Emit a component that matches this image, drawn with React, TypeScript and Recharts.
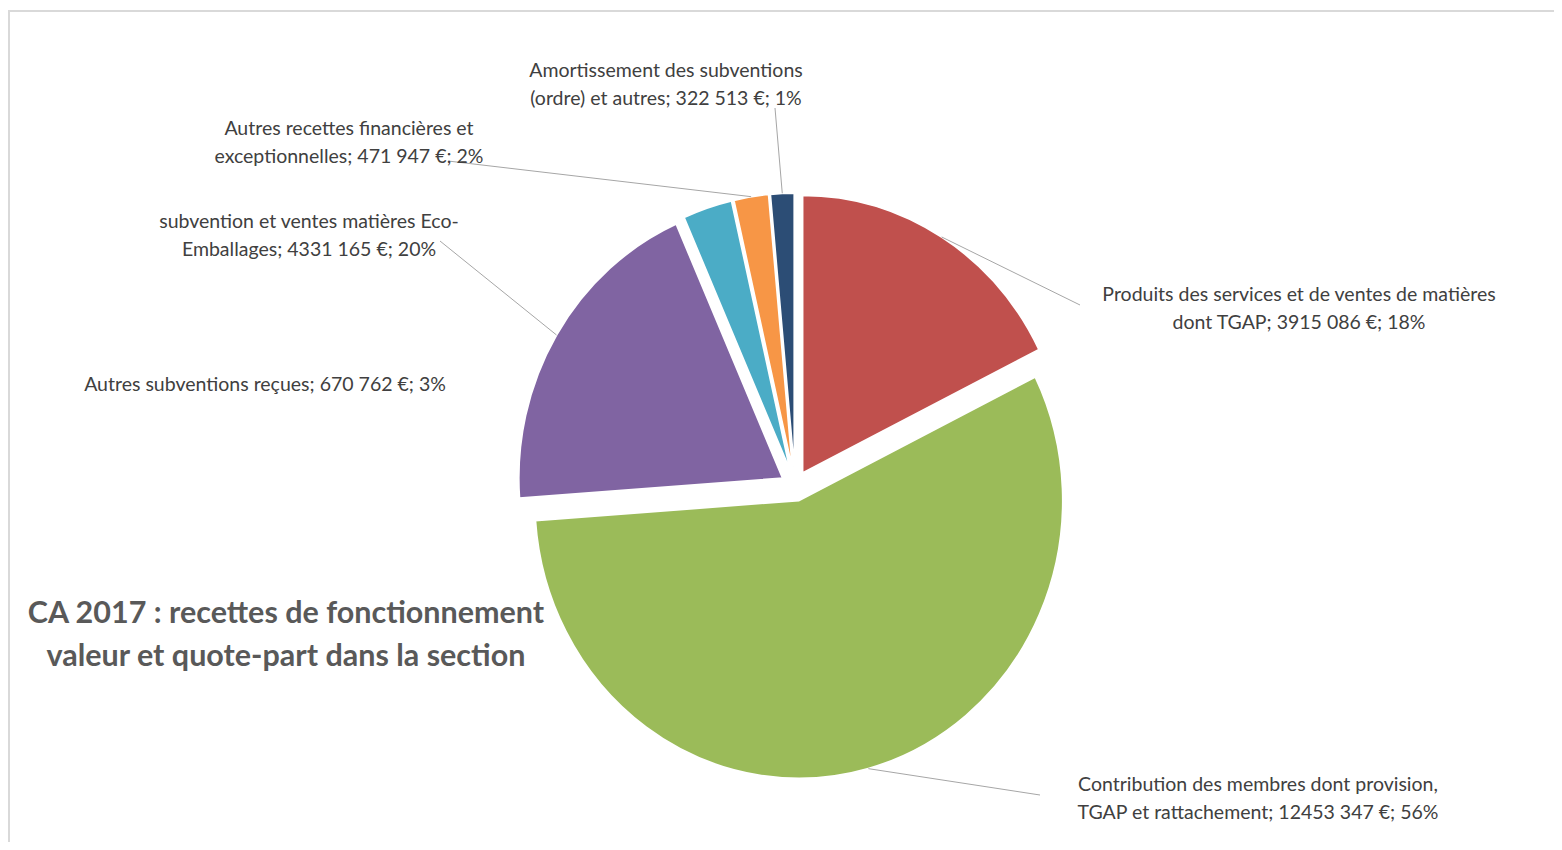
import { PieChart, Pie, Cell, Sector } from "recharts";

const LABELS = [
  ["Produits des services et de ventes de matières", "dont TGAP"],
  ["Contribution des membres dont provision,", "TGAP et rattachement"],
  ["subvention  et ventes matières Eco-", "Emballages"],
  ["Autres subventions reçues"],
  ["Autres recettes financières et", "exceptionnelles"],
  ["Amortissement des subventions", "(ordre) et autres"],
];
const VALUES = [3915086, 12453347, 4331165, 670762, 471947, 322513];
const COLORS = ["#C0504D", "#9BBB59", "#8064A2", "#4BACC6", "#F79646", "#2C4D75"];

// where each label block sits (center x, first line y) and where its leader line stops
const LABEL_POS = [
  { x: 1291, y: 287, lx: 1072, ly: 297, line: true },
  { x: 1250, y: 777, lx: 1032, ly: 787, line: true },
  { x: 301, y: 214, lx: 432, ly: 233, line: true },
  { x: 257, y: 377, lx: 0, ly: 0, line: false },
  { x: 341, y: 121, lx: 440, ly: 153, line: true },
  { x: 658, y: 63, lx: 767, ly: 100, line: true },
];

const EXPLODE = 15;
const SCALE_X = 0.95; // the original picture is a little squeezed sideways
const RAD = Math.PI / 180;
const FONT = "Lato, 'Open Sans', sans-serif";

const total = VALUES.reduce((a, b) => a + b, 0);
const data = VALUES.map((v, i) => ({ name: LABELS[i].join(" "), value: v, idx: i }));

// Excel output here only splits off the last three digits
const fmt = (v: number) => {
  const s = String(v);
  return s.length > 3 ? `${s.slice(0, -3)} ${s.slice(-3)}` : s;
};

function shift(midAngle: number) {
  return {
    dx: Math.cos(-midAngle * RAD) * EXPLODE,
    dy: Math.sin(-midAngle * RAD) * EXPLODE,
  };
}

function ExplodedSector(props: any) {
  const { dx, dy } = shift(props.midAngle);
  const { cx, cy } = props;
  return (
    <g transform={`translate(${cx} ${cy}) scale(${SCALE_X} 1) translate(${-cx} ${-cy})`}>
      <Sector
        {...props}
        cx={cx + dx}
        cy={cy + dy}
        stroke="#ffffff"
        strokeWidth={2}
      />
    </g>
  );
}

function renderLabel(props: any) {
  const { cx, cy, midAngle, outerRadius, index, value } = props;
  const pos = LABEL_POS[index];
  const { dx, dy } = shift(midAngle);
  const sx = cx + (dx + Math.cos(-midAngle * RAD) * outerRadius) * SCALE_X;
  const sy = cy + dy + Math.sin(-midAngle * RAD) * outerRadius;
  const lines = [...LABELS[index]];
  const pct = Math.round((value / total) * 100);
  const tail = `${fmt(value)} €; ${pct}%`;
  lines[lines.length - 1] = `${lines[lines.length - 1]}; ${tail}`;
  return (
    <g key={`lbl-${index}`}>
      {pos.line && (
        <polyline
          points={`${sx},${sy} ${pos.lx},${pos.ly}`}
          fill="none"
          stroke="#A6A6A6"
          strokeWidth={1}
        />
      )}
      <text
        x={pos.x}
        y={pos.y}
        textAnchor="middle"
        fill="#404040"
        fontSize={19.5}
        fontFamily={FONT}
      >
        {lines.map((l, i) => (
          <tspan key={i} x={pos.x} dy={i === 0 ? 6 : 28}>
            {l}
          </tspan>
        ))}
      </text>
    </g>
  );
}

export default function App() {
  return (
    <div style={{ position: "relative", width: 1546, height: 834, background: "#fff" }}>
      <div
        style={{
          position: "absolute",
          left: 0,
          top: 2,
          right: 0,
          bottom: 0,
          borderTop: "2px solid #D9D9D9",
          borderLeft: "2px solid #D9D9D9",
        }}
      />
      <div
        style={{
          position: "absolute",
          left: 0,
          top: 582,
          width: 556,
          textAlign: "center",
          fontFamily: FONT,
          fontWeight: 700,
          fontSize: 30.5,
          lineHeight: "43px",
          color: "#595959",
          whiteSpace: "nowrap",
        }}
      >
        CA 2017 : recettes de fonctionnement
        <br />
        valeur et quote-part dans la section
      </div>
      <div style={{ position: "absolute", left: 0, top: 0 }}>
        <PieChart width={1546} height={834}>
          <Pie
            data={data}
            dataKey="value"
            nameKey="name"
            cx={782}
            cy={473}
            outerRadius={278}
            startAngle={90}
            endAngle={-270}
            stroke="#ffffff"
            strokeWidth={2}
            shape={ExplodedSector}
            inactiveShape={ExplodedSector}
            activeShape={ExplodedSector}
            label={renderLabel}
            labelLine={false}
            isAnimationActive={false}
          >
            {data.map((d) => (
              <Cell key={d.idx} fill={COLORS[d.idx]} />
            ))}
          </Pie>
        </PieChart>
      </div>
    </div>
  );
}
